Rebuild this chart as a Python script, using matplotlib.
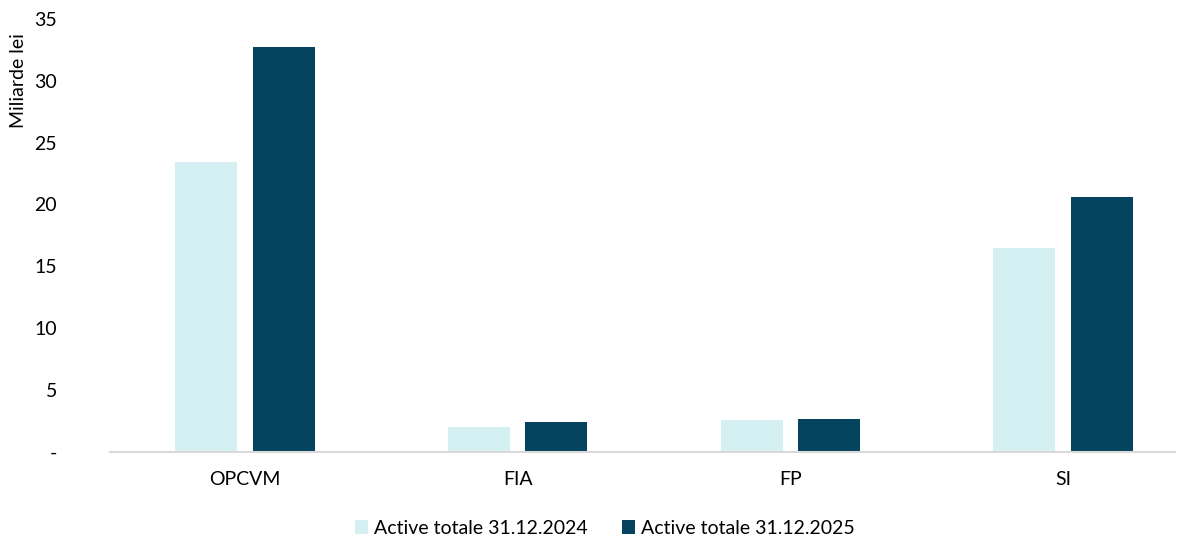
import numpy as np
import matplotlib.pyplot as plt

plt.rcParams['font.family'] = ['Lato', 'DejaVu Sans']

categories = ['OPCVM', 'FIA', 'FP', 'SI']
active_2024 = [23.4, 2.0, 2.6, 16.5]
active_2025 = [32.7, 2.45, 2.65, 20.6]
yticks = [0, 5, 10, 15, 20, 25, 30, 35]
ytick_labels = ['-', '5', '10', '15', '20', '25', '30', '35']

light = '#D5F0F3'
dark = '#05445E'

fig = plt.figure(figsize=(11.86, 5.38), dpi=100)
ax = fig.add_axes([0.0927, 0.16, 0.898, 0.805])

x = np.arange(len(categories))
w = 0.227
ax.bar(x - 0.142, active_2024, w, color=light, label='Active totale 31.12.2024')
ax.bar(x + 0.142, active_2025, w, color=dark, label='Active totale 31.12.2025')

ax.set_xlim(-0.495, 3.41)
ax.set_ylim(0, 35)
ax.set_yticks(yticks)
ax.set_yticklabels(ytick_labels)
ax.set_xticks(x)
ax.set_xticklabels(categories)
ax.tick_params(axis='both', length=0, labelsize=14)
ax.tick_params(axis='y', pad=38)
ax.tick_params(axis='x', pad=14)
for lbl in ax.get_yticklabels():
    lbl.set_horizontalalignment('right')

for s in ['top', 'right', 'left']:
    ax.spines[s].set_visible(False)
ax.spines['bottom'].set_color('#D9D9D9')
ax.spines['bottom'].set_linewidth(1.5)

ax.set_ylabel('Miliarde lei', fontsize=14)
ax.yaxis.set_label_coords(-0.078, 0.858)

fig.legend(loc='lower center', bbox_to_anchor=(0.51, -0.03), ncol=2, frameon=False,
           fontsize=14, handlelength=0.7, handleheight=0.7, handletextpad=0.3,
           columnspacing=1.75)

fig.savefig('out.png', dpi=100)
